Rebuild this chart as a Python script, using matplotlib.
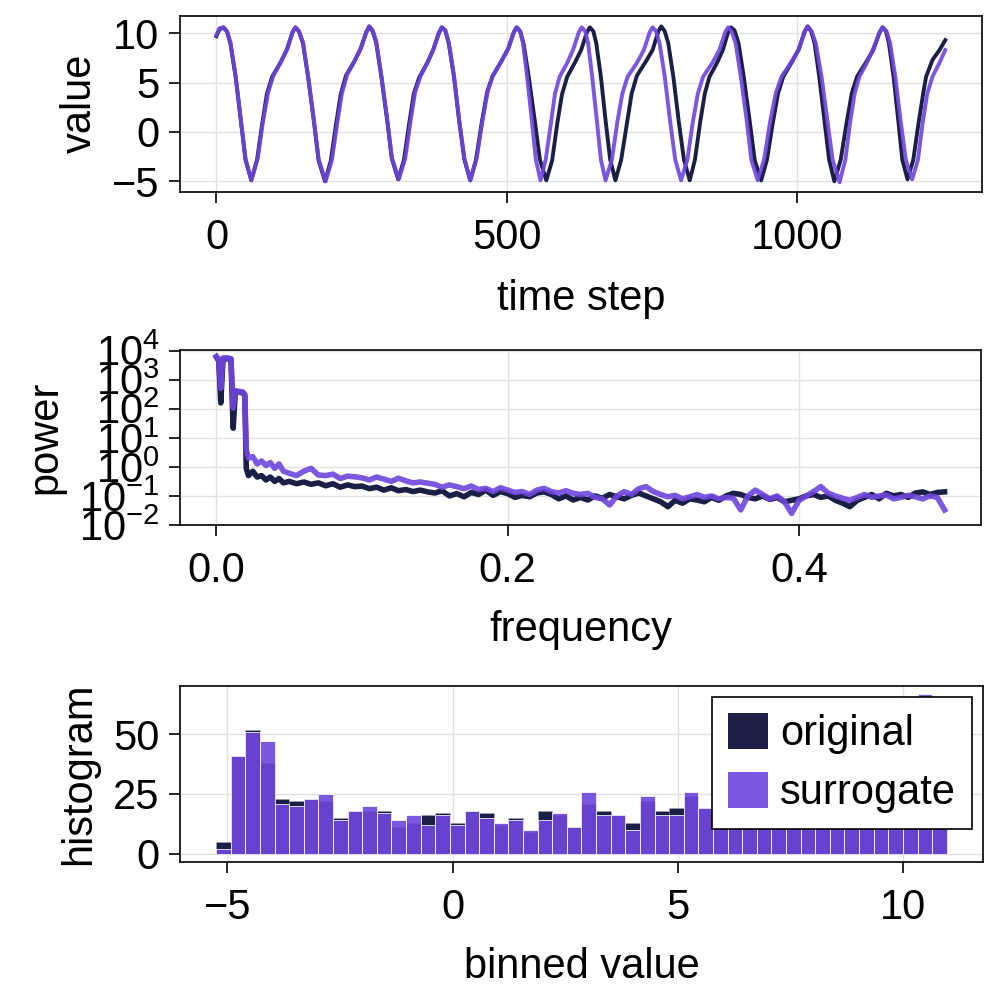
import numpy as np
import matplotlib
matplotlib.use("Agg")
import matplotlib.pyplot as plt
from matplotlib.patches import Patch

plt.rcParams['font.family'] = ['Liberation Sans', 'DejaVu Sans']
plt.rcParams['font.size'] = 30
plt.rcParams['mathtext.fontset'] = 'custom'
plt.rcParams['mathtext.rm'] = 'Liberation Sans'
plt.rcParams['axes.linewidth'] = 1.2

ORIG_COLOR = "#1b1f45"
SURR_COLOR = "#6f46dd"
SURR_ALPHA = 0.91
GRID_COLOR = "#e2e2e2"

# ---- time series (key points) ----
t_orig = [0, 5, 12, 18, 24, 33, 42, 50, 60, 70, 79, 87, 96, 110, 121, 131, 136,
          142, 149, 158, 168, 176, 187, 197, 206, 214, 223, 237, 248, 258, 263,
          269, 275, 284, 294, 302, 313, 323, 332, 340, 349, 363, 373, 383, 388,
          394, 400, 409, 418, 427, 437, 447, 457, 466, 475, 490, 502, 512, 517,
          523, 529, 538, 548, 557, 568, 578, 587, 595, 604, 617, 628, 638, 643,
          649, 654, 662, 670, 678, 687, 697, 707, 715, 724, 739, 751, 761, 766,
          772, 778, 787, 796, 805, 815, 824, 833, 841, 849, 862, 872, 881, 886,
          892, 899, 908, 918, 927, 938, 948, 958, 967, 976, 991, 1003, 1013, 1018,
          1024, 1030, 1038, 1047, 1055, 1064, 1075, 1085, 1094, 1103, 1118, 1131, 1142, 1147,
          1153, 1158, 1166, 1174, 1181, 1190, 1200, 1209, 1217, 1222, 1233, 1245, 1255]
v_orig = [9.7, 10.4, 10.6, 10.2, 9.0, 5.6, 1.2, -2.8, -4.9, -2.8, 0.9, 3.9, 5.6, 7.0, 8.3, 10.1, 10.6,
          10.2, 9.0, 5.5, 1.0, -2.9, -5.0, -2.9, 0.8, 3.8, 5.7, 7.1, 8.4, 10.1, 10.7,
          10.2, 9.1, 5.6, 1.2, -2.7, -4.8, -2.8, 0.9, 3.9, 5.5, 7.0, 8.3, 10.0, 10.6,
          10.3, 9.0, 5.6, 1.1, -2.8, -4.9, -2.8, 1.0, 4.0, 5.6, 7.1, 8.4, 10.1, 10.6,
          10.2, 8.9, 5.5, 1.2, -2.8, -4.9, -2.9, 0.9, 3.8, 5.6, 7.0, 8.3, 10.1, 10.6,
          10.2, 9.0, 5.6, 1.2, -2.8, -4.9, -2.8, 0.9, 3.9, 5.7, 7.1, 8.3, 10.2, 10.7,
          10.2, 9.0, 5.5, 1.1, -2.8, -4.9, -2.8, 1.0, 3.9, 5.6, 7.0, 8.3, 10.1, 10.6,
          10.3, 9.0, 5.6, 1.2, -2.9, -4.9, -2.8, 0.9, 3.9, 5.6, 7.1, 8.4, 10.2, 10.7,
          10.2, 9.0, 5.6, 1.2, -2.8, -5.0, -2.8, 0.9, 3.9, 5.6, 7.0, 8.3, 10.1, 10.6,
          10.2, 9.0, 5.6, 1.2, -2.8, -4.8, -2.8, 0.9, 3.9, 5.6, 7.3, 8.3, 9.3]

t_surr = [0, 5, 12, 18, 24, 33, 42, 50, 60, 71, 80, 89, 98, 111, 122, 131, 136,
          142, 149, 158, 168, 176, 188, 199, 208, 216, 225, 238, 249, 258, 263,
          269, 275, 284, 294, 302, 314, 325, 334, 342, 351, 364, 374, 383, 388,
          394, 400, 409, 418, 427, 437, 448, 458, 467, 476, 491, 503, 512, 517,
          523, 528, 535, 543, 550, 558, 567, 576, 583, 591, 604, 614, 624, 629,
          635, 640, 647, 655, 662, 670, 681, 690, 699, 708, 724, 736, 746, 751,
          757, 763, 772, 781, 790, 800, 811, 820, 829, 838, 854, 866, 876, 881,
          887, 894, 903, 913, 921, 932, 943, 953, 963, 973, 989, 1002, 1013, 1018,
          1025, 1032, 1042, 1052, 1061, 1073, 1083, 1091, 1099, 1107, 1120, 1130, 1142, 1147,
          1154, 1160, 1169, 1178, 1187, 1198, 1208, 1216, 1224, 1233, 1245, 1255]
v_surr = [9.8, 10.5, 10.6, 10.2, 9.1, 5.7, 1.3, -2.7, -4.9, -2.7, 1.0, 4.0, 5.7, 7.1, 8.4, 10.1, 10.6,
          10.2, 9.1, 5.6, 1.1, -2.8, -5.0, -2.8, 0.9, 3.9, 5.8, 7.2, 8.5, 10.1, 10.7,
          10.3, 9.2, 5.7, 1.3, -2.6, -4.8, -2.7, 1.0, 4.0, 5.6, 7.1, 8.4, 10.1, 10.6,
          10.3, 9.1, 5.7, 1.2, -2.7, -4.9, -2.7, 1.1, 4.1, 5.7, 7.2, 8.5, 10.1, 10.6,
          10.2, 9.0, 5.6, 1.2, -2.8, -4.9, -2.8, 0.9, 3.9, 5.6, 7.0, 8.3, 10.1, 10.6,
          10.2, 9.0, 5.6, 1.2, -2.8, -4.9, -2.8, 0.9, 3.9, 5.6, 7.0, 8.3, 10.1, 10.6,
          10.2, 9.0, 5.6, 1.2, -2.8, -4.9, -2.8, 0.9, 3.9, 5.6, 7.0, 8.3, 10.1, 10.6,
          10.2, 9.0, 5.6, 1.2, -2.8, -4.9, -2.8, 0.9, 3.9, 5.6, 7.0, 8.3, 10.1, 10.7,
          10.2, 9.0, 5.6, 1.2, -2.8, -5.1, -2.8, 0.9, 3.9, 5.6, 7.0, 8.3, 10.1, 10.6,
          10.2, 9.0, 5.6, 1.2, -2.8, -4.8, -2.8, 0.9, 3.9, 5.6, 7.0, 8.3]

# ---- power spectrum (log10 of power) ----
freq = [0.0, 0.0016, 0.003, 0.0045, 0.006, 0.008, 0.010, 0.0115, 0.013, 0.0155,
        0.018, 0.0195, 0.0205, 0.022, 0.025, 0.028, 0.031, 0.034, 0.037, 0.040,
        0.043, 0.046,
        0.050, 0.055, 0.060, 0.065, 0.070, 0.075, 0.080, 0.085, 0.090, 0.095,
        0.100, 0.105, 0.110, 0.115, 0.120, 0.125, 0.130, 0.135, 0.140, 0.145,
        0.150, 0.155, 0.160, 0.165, 0.170, 0.175, 0.180, 0.185, 0.190, 0.195,
        0.200, 0.205, 0.210, 0.215, 0.220, 0.225, 0.230, 0.235, 0.240, 0.245,
        0.250, 0.255, 0.260, 0.265, 0.270, 0.275, 0.280, 0.285, 0.290, 0.295,
        0.300, 0.305, 0.310, 0.315, 0.320, 0.325, 0.330, 0.335, 0.340, 0.345,
        0.350, 0.355, 0.360, 0.365, 0.370, 0.375, 0.380, 0.385, 0.390, 0.395,
        0.400, 0.405, 0.410, 0.415, 0.420, 0.425, 0.430, 0.435, 0.440, 0.445,
        0.450, 0.455, 0.460, 0.465, 0.470, 0.475, 0.480, 0.485, 0.490, 0.495,
        0.500]
logp_orig = [3.78, 3.65, 2.20, 3.70, 3.72, 3.72, 3.70, 1.33, 2.60, 2.58,
             2.55, 2.45, -0.05, -0.30, -0.15, -0.35, -0.30, -0.45, -0.35, -0.50,
             -0.40, -0.55,
             -0.50, -0.58, -0.52, -0.60, -0.55, -0.65, -0.58, -0.70, -0.62, -0.68,
             -0.66, -0.75, -0.70, -0.80, -0.72, -0.82, -0.78, -0.85, -0.80, -0.86,
             -0.90, -0.82, -1.00, -0.92, -1.03, -0.88, -0.95, -0.80, -0.98, -0.85,
             -0.92, -1.05, -0.98, -1.03, -0.90, -0.86, -0.95, -1.10, -1.00, -1.14,
             -1.05, -1.14, -1.00, -1.08, -0.95, -1.03, -1.10, -0.98, -0.90, -1.00,
             -1.10, -1.20, -1.37, -1.15, -1.25, -1.10, -1.14, -1.20, -1.05, -1.15,
             -1.00, -0.91, -0.95, -1.05, -1.10, -1.00, -1.12, -1.05, -1.20, -1.15,
             -1.10, -1.00, -0.95, -1.05, -1.00, -1.15, -1.25, -1.37, -1.15, -1.05,
             -0.95, -1.10, -0.91, -1.00, -0.95, -1.05, -0.90, -0.86, -0.95, -0.88,
             -0.86]
logp_surr = [3.80, 3.70, 2.70, 3.75, 3.75, 3.75, 3.72, 2.02, 2.62, 2.60,
             2.58, 2.50, 0.60, 0.30, 0.35, 0.10, 0.20, 0.05, 0.15, -0.05,
             0.10, -0.15,
             -0.22, -0.30, -0.15, -0.05, -0.28, -0.30, -0.25, -0.40, -0.32, -0.34,
             -0.38, -0.45, -0.35, -0.42, -0.50, -0.39, -0.48, -0.55, -0.52, -0.56,
             -0.60, -0.70, -0.62, -0.68, -0.75, -0.66, -0.78, -0.74, -0.85, -0.72,
             -0.80, -0.88, -0.85, -0.95, -0.80, -0.74, -0.85, -0.90, -0.82, -0.91,
             -0.95, -0.91, -1.05, -1.10, -1.31, -1.00, -0.85, -0.95, -0.75, -0.68,
             -0.85, -0.95, -1.03, -0.98, -1.10, -1.03, -0.95, -1.05, -1.00, -1.10,
             -1.05, -1.08, -1.48, -1.00, -0.80, -0.95, -1.10, -1.00, -1.20, -1.60,
             -1.15, -1.00, -0.85, -0.68, -0.90, -1.00, -1.08, -1.15, -1.05, -0.95,
             -1.05, -1.00, -0.97, -1.10, -1.05, -0.98, -1.03, -1.10, -1.00, -1.05,
             -1.48]

# ---- histogram (50 bins) ----
hist_lo, hist_hi, n_bins = -5.25, 10.97, 50
hist_orig = [5, 41, 52, 38, 23, 22, 23, 22, 15, 18, 18, 18, 11, 13, 16, 17, 13, 18, 17, 12,
             15, 9, 18, 16, 11, 21, 18, 16, 13, 22, 18, 19, 24, 19, 30, 33, 35, 36, 34, 37,
             36, 38, 35, 37, 39, 38, 42, 45, 60, 24]
hist_surr = [2, 41, 51, 47, 21, 20, 23, 25, 14, 18, 20, 17, 14, 16, 12, 16, 12, 18, 15, 13,
             14, 10, 14, 17, 11, 26, 16, 16, 10, 24, 16, 16, 26, 19, 31, 34, 34, 37, 35, 36,
             37, 37, 36, 38, 38, 39, 41, 44, 67, 18]


def style_axes(ax):
    ax.grid(True, color=GRID_COLOR, linewidth=1.0)
    ax.set_axisbelow(True)
    ax.tick_params(axis='both', direction='out', length=7.7, width=1.2,
                   labelsize=30, top=False, right=False)
    ax.tick_params(axis='x', pad=11)
    ax.tick_params(axis='y', pad=7)


fig = plt.figure(figsize=(10, 10), dpi=100)

# top: time series
ax1 = fig.add_axes([0.180, 0.8083, 0.8017, 0.176])
ax1.plot(t_orig, v_orig, color=ORIG_COLOR, linewidth=2.8)
ax1.plot(t_surr, v_surr, color=SURR_COLOR, alpha=SURR_ALPHA, linewidth=2.8)
ax1.set_xlim(-62.75, 1317.75)
ax1.set_ylim(-6.05, 11.78)
ax1.set_xticks([0, 500, 1000])
ax1.set_yticks([-5, 0, 5, 10])
ax1.set_xlabel("time step", labelpad=15)
ax1.set_ylabel("value", labelpad=9)
style_axes(ax1)

# middle: power spectrum
ax2 = fig.add_axes([0.180, 0.475, 0.801, 0.175])
ax2.plot(freq, 10 ** np.array(logp_orig), color=ORIG_COLOR, linewidth=4.0)
ax2.plot(freq, 10 ** np.array(logp_surr), color=SURR_COLOR, alpha=SURR_ALPHA, linewidth=4.0)
ax2.set_yscale('log')
ax2.set_xlim(-0.025, 0.525)
ax2.set_ylim(1e-2, 1.05e4)
ax2.set_xticks([0.0, 0.2, 0.4])
ax2.set_xticklabels(["0.0", "0.2", "0.4"])
ax2.set_yticks([1e-2, 1e-1, 1e0, 1e1, 1e2, 1e3, 1e4])
ax2.yaxis.set_minor_locator(matplotlib.ticker.NullLocator())
ax2.set_xlabel("frequency", labelpad=14)
ax2.set_ylabel("power", labelpad=10)
style_axes(ax2)

# bottom: histograms
ax3 = fig.add_axes([0.180, 0.1383, 0.8033, 0.176])
edges = np.linspace(hist_lo, hist_hi, n_bins + 1)
widths = np.diff(edges)
ax3.bar(edges[:-1], hist_orig, width=widths, align='edge', color=ORIG_COLOR,
        edgecolor=(1, 1, 1, 0.12), linewidth=0.6)
ax3.bar(edges[:-1], hist_surr, width=widths, align='edge', color=SURR_COLOR,
        alpha=SURR_ALPHA, edgecolor=(1, 1, 1, 0.12), linewidth=0.6)
ax3.set_xlim(-6.05, 11.78)
ax3.set_ylim(-3.35, 70.35)
ax3.set_xticks([-5, 0, 5, 10])
ax3.set_yticks([0, 25, 50])
ax3.set_xlabel("binned value", labelpad=14)
ax3.set_ylabel("histogram", labelpad=10)
style_axes(ax3)

handles = [Patch(facecolor=ORIG_COLOR, edgecolor='none'),
           Patch(facecolor=SURR_COLOR, alpha=SURR_ALPHA, edgecolor='none')]
leg = ax3.legend(handles, ["original", "surrogate"], loc='upper right',
                 bbox_to_anchor=(0.972, 0.303), bbox_transform=fig.transFigure,
                 borderaxespad=0, fontsize=30, handlelength=0.96, handleheight=0.96,
                 handletextpad=0.3, labelspacing=0.42, borderpad=0.38,
                 fancybox=False, framealpha=1, edgecolor='black')
leg.get_frame().set_linewidth(1.2)

fig.savefig("out.png", dpi=100)
